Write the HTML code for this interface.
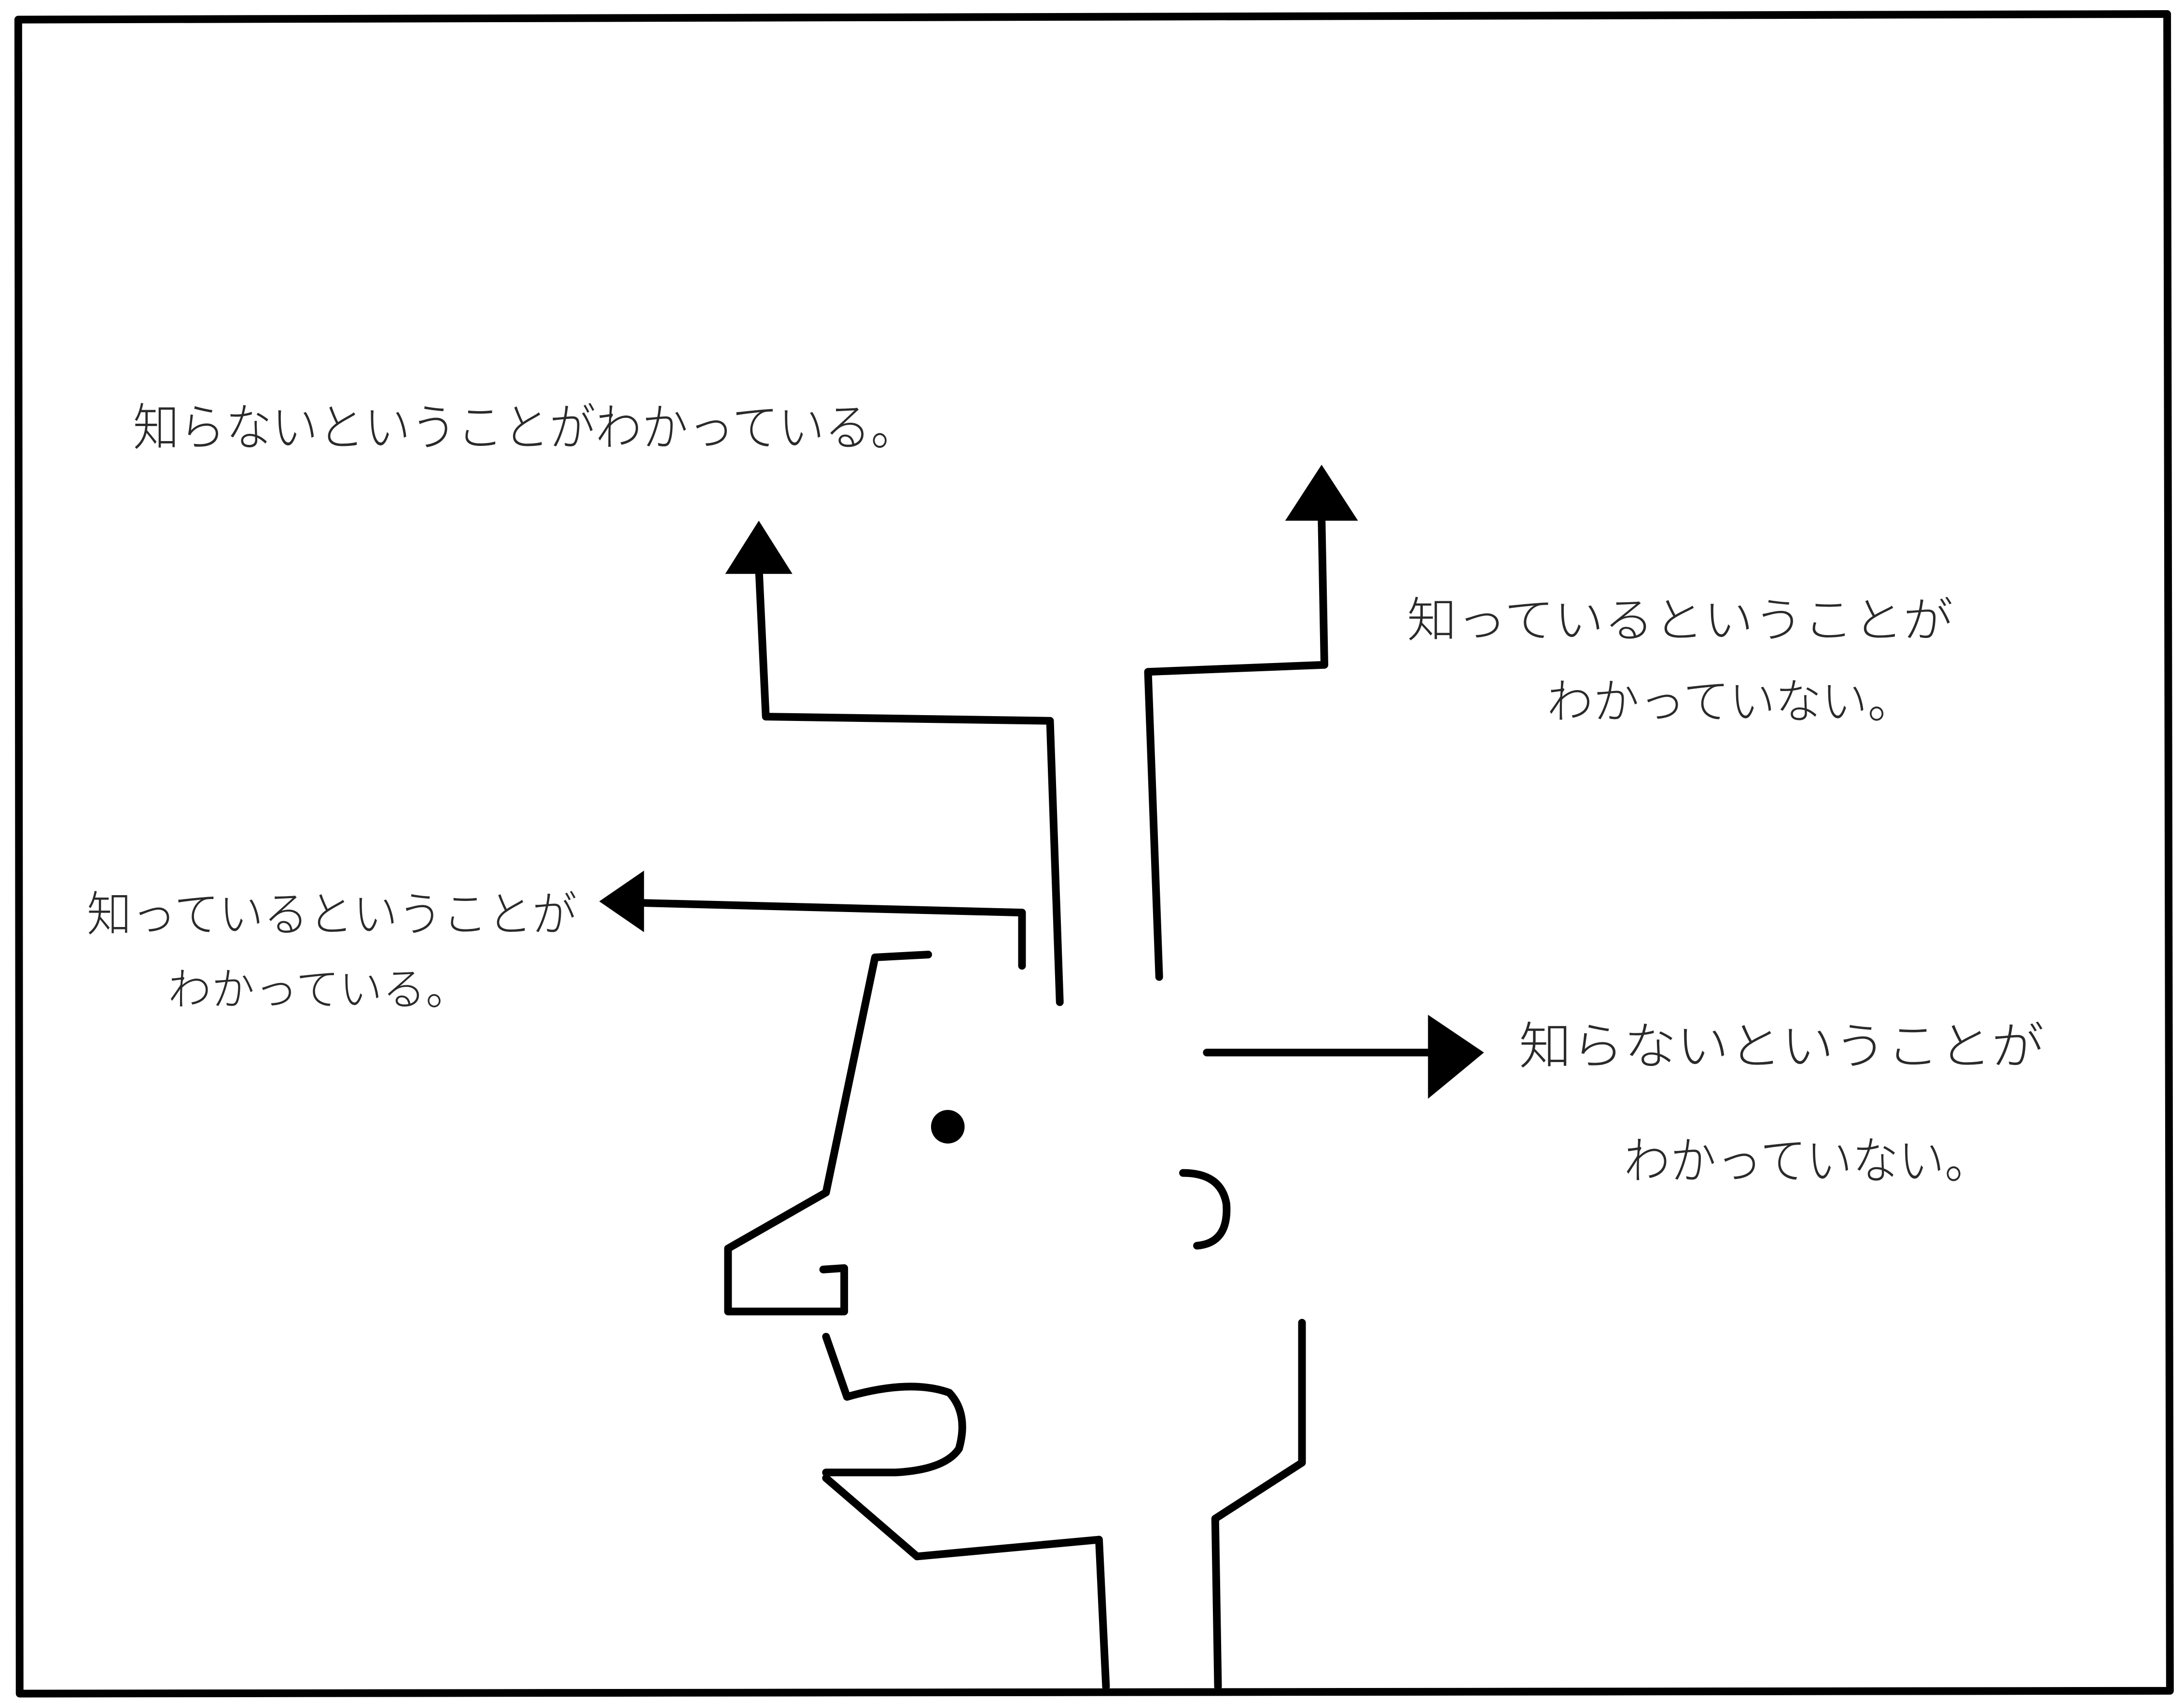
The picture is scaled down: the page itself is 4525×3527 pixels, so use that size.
<!DOCTYPE html>
<html>
<head>
<meta charset="utf-8">
<style>
html,body{margin:0;padding:0;background:#fff;}
svg{display:block;}
text{font-family:"Liberation Sans","Noto Sans CJK JP",sans-serif;fill:#2a2a2a;font-weight:300;}
</style>
</head>
<body>
<svg width="4525" height="3527" viewBox="0 0 1560 1216" xmlns="http://www.w3.org/2000/svg">
<rect width="1560" height="1216" fill="#fff"/>
<g fill="none" stroke="#000" stroke-width="5.5" stroke-linecap="round" stroke-linejoin="round">
<!-- frame -->
<path d="M13,14 L1548,10 L1550,1208 L14,1210 Z"/>
<!-- forehead and nose -->
<path d="M663,682 L625,684 L590,852 L520,892 L520,937 L603,937 L603,906 L588,907"/>
<!-- mouth -->
<path d="M590,955 L605,998 Q650,985 678,995 Q692,1010 685,1035 Q675,1050 640,1052 L590,1052"/>
<!-- jaw -->
<path d="M590,1056 L655,1112 L785,1100 L790,1205"/>
<!-- neck right -->
<path d="M930,945 L930,1045 L868,1085 L870,1205"/>
<!-- ear -->
<path d="M845,838 Q872,838 876,860 Q878,888 855,890"/>
<!-- connectors -->
<path d="M730,690 L730,652 L455,645"/>
<path d="M757,716 L750,515 L547,512 L542,405"/>
<path d="M828,698 L820,480 L946,475 L944,370"/>
<path d="M862,752 L1020,752"/>
</g>
<circle cx="677" cy="805" r="12" fill="#000"/>
<!-- arrowheads -->
<polygon points="428,644 460,622 460,666" fill="#000"/>
<polygon points="542,372 518,410 566,410" fill="#000"/>
<polygon points="944,332 918,372 970,372" fill="#000"/>
<polygon points="1060,752 1020,725 1020,785" fill="#000"/>
<!-- labels -->
<text x="95" y="318" font-size="36" textLength="560" lengthAdjust="spacingAndGlyphs">知らないということがわかっている。</text>
<text x="1005" y="455" font-size="34" textLength="390" lengthAdjust="spacingAndGlyphs">知っているということが</text>
<text x="1105" y="513" font-size="34" textLength="262" lengthAdjust="spacingAndGlyphs">わかっていない。</text>
<text x="62" y="665" font-size="34" textLength="350" lengthAdjust="spacingAndGlyphs">知っているということが</text>
<text x="120" y="718" font-size="32" textLength="215" lengthAdjust="spacingAndGlyphs">わかっている。</text>
<text x="1085" y="760" font-size="36" textLength="375" lengthAdjust="spacingAndGlyphs">知らないということが</text>
<text x="1160" y="842" font-size="36" textLength="262" lengthAdjust="spacingAndGlyphs">わかっていない。</text>
</svg>
</body>
</html>
